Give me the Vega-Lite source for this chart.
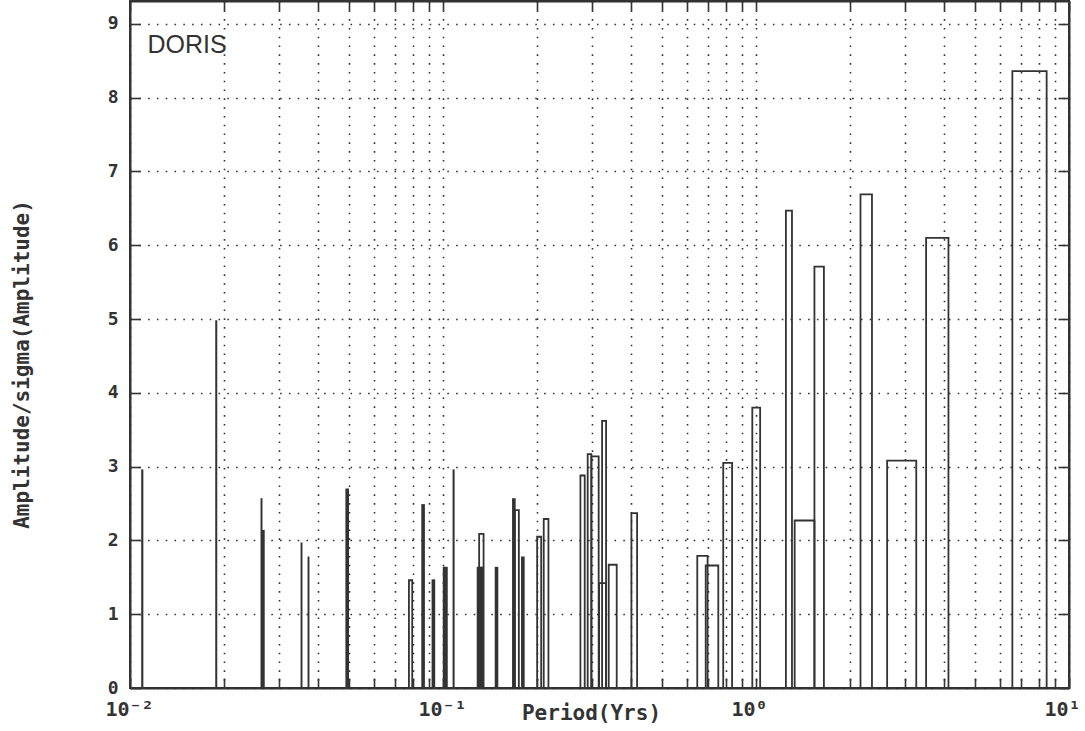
{
  "$schema": "https://vega.github.io/schema/vega-lite/v6.json",
  "width": 939,
  "height": 687,
  "autosize": "none",
  "padding": {"left": 130, "top": 1, "right": 16, "bottom": 43},
  "background": "white",
  "config": {
    "view": {"stroke": "#333", "strokeWidth": 2},
    "axis": {
      "domainColor": "#333",
      "domainWidth": 2,
      "tickColor": "#333",
      "tickWidth": 1.6,
      "tickSize": -10,
      "gridColor": "#333",
      "gridDash": [1.6, 7.2],
      "gridWidth": 1.6,
      "gridOpacity": 1,
      "labelFont": "DejaVu Sans Mono",
      "labelFontWeight": "bold",
      "labelFontSize": 20,
      "labelColor": "#333",
      "titleFont": "DejaVu Sans Mono",
      "titleFontWeight": "bold",
      "titleFontSize": 21,
      "titleColor": "#333",
      "labelFlush": false,
      "labelOverlap": false
    }
  },
  "layer": [
    {
      "data": {
        "values": [
          {"pmin": 0.010930, "pmax": 0.010960, "amp": 2.95},
          {"pmin": 0.018845, "pmax": 0.018875, "amp": 4.97},
          {"pmin": 0.026295, "pmax": 0.026325, "amp": 2.56},
          {"pmin": 0.026524, "pmax": 0.026760, "amp": 2.13},
          {"pmin": 0.035300, "pmax": 0.035330, "amp": 1.96},
          {"pmin": 0.037165, "pmax": 0.037195, "amp": 1.77},
          {"pmin": 0.049096, "pmax": 0.049754, "amp": 2.69},
          {"pmin": 0.07783, "pmax": 0.07974, "amp": 1.46},
          {"pmin": 0.08582, "pmax": 0.08696, "amp": 2.48},
          {"pmin": 0.09257, "pmax": 0.09380, "amp": 1.46},
          {"pmin": 0.10048, "pmax": 0.10167, "amp": 1.63},
          {"pmin": 0.10167, "pmax": 0.10287, "amp": 1.63},
          {"pmin": 0.10800, "pmax": 0.10820, "amp": 2.95},
          {"pmin": 0.12900, "pmax": 0.13032, "amp": 1.63},
          {"pmin": 0.13032, "pmax": 0.13165, "amp": 1.63},
          {"pmin": 0.13165, "pmax": 0.13298, "amp": 1.63},
          {"pmin": 0.13298, "pmax": 0.13433, "amp": 1.63},
          {"pmin": 0.13047, "pmax": 0.13478, "amp": 2.09},
          {"pmin": 0.14727, "pmax": 0.14923, "amp": 1.63},
          {"pmin": 0.16730, "pmax": 0.16953, "amp": 2.56},
          {"pmin": 0.16966, "pmax": 0.17472, "amp": 2.41},
          {"pmin": 0.17875, "pmax": 0.18112, "amp": 1.77},
          {"pmin": 0.1999, "pmax": 0.2059, "amp": 2.05},
          {"pmin": 0.2098, "pmax": 0.2172, "amp": 2.29},
          {"pmin": 0.2748, "pmax": 0.2836, "amp": 2.88},
          {"pmin": 0.2899, "pmax": 0.2979, "amp": 3.17},
          {"pmin": 0.2979, "pmax": 0.3143, "amp": 3.14},
          {"pmin": 0.3223, "pmax": 0.3319, "amp": 3.62},
          {"pmin": 0.3153, "pmax": 0.3319, "amp": 1.42},
          {"pmin": 0.3384, "pmax": 0.3589, "amp": 1.67},
          {"pmin": 0.3999, "pmax": 0.4170, "amp": 2.37},
          {"pmin": 0.6492, "pmax": 0.7005, "amp": 1.79},
          {"pmin": 0.6908, "pmax": 0.7578, "amp": 1.66},
          {"pmin": 0.7858, "pmax": 0.8387, "amp": 3.05},
          {"pmin": 0.9732, "pmax": 1.031, "amp": 3.80},
          {"pmin": 1.246, "pmax": 1.303, "amp": 6.47},
          {"pmin": 1.329, "pmax": 1.537, "amp": 2.27},
          {"pmin": 1.537, "pmax": 1.648, "amp": 5.71},
          {"pmin": 2.157, "pmax": 2.347, "amp": 6.69},
          {"pmin": 2.624, "pmax": 3.251, "amp": 3.08},
          {"pmin": 3.495, "pmax": 4.120, "amp": 6.10},
          {"pmin": 6.592, "pmax": 8.484, "amp": 8.36}
        ]
      },
      "mark": {"type": "rect", "filled": false, "stroke": "#333", "strokeWidth": 1.8},
      "encoding": {
        "x": {
          "field": "pmin",
          "type": "quantitative",
          "scale": {"type": "log", "domain": [0.01, 10], "nice": false},
          "axis": {
            "orient": "bottom",
            "values": [0.01, 0.02, 0.03, 0.04, 0.05, 0.06, 0.07, 0.08, 0.09, 0.1, 0.2, 0.3, 0.4, 0.5, 0.6, 0.7, 0.8, 0.9, 1, 2, 3, 4, 5, 6, 7, 8, 9, 10],
            "grid": true,
            "labelExpr": "datum.value == 0.01 ? '10⁻²' : datum.value == 0.1 ? '10⁻¹' : datum.value == 1 ? '10⁰' : datum.value == 10 ? '10¹' : ''",
            "labelAlign": "left",
            "labelOffset": -25,
            "labelPadding": 21,
            "labelBaseline": "top",
            "title": "Period(Yrs)",
            "titleX": 461,
            "titleY": 31,
            "titleAlign": "center",
            "titleBaseline": "alphabetic"
          }
        },
        "x2": {"field": "pmax"},
        "y": {
          "field": "amp",
          "type": "quantitative",
          "scale": {"domain": [0, 9.31], "nice": false},
          "axis": {
            "orient": "left",
            "values": [0, 1, 2, 3, 4, 5, 6, 7, 8, 9],
            "grid": true,
            "labelFontSize": 18,
            "labelPadding": 22,
            "labelBaseline": "middle",
            "title": "Amplitude/sigma(Amplitude)",
            "titleAngle": -90,
            "titleX": -102,
            "titleY": 363,
            "titleAlign": "center",
            "titleBaseline": "alphabetic"
          }
        },
        "y2": {"datum": 0}
      }
    },
    {
      "data": {"values": [{"label": "DORIS", "period": 0.011373, "amp": 8.6}]},
      "mark": {"type": "text", "align": "left", "baseline": "alphabetic", "font": "Liberation Sans", "fontSize": 25, "color": "#333"},
      "encoding": {
        "x": {
          "field": "period",
          "type": "quantitative",
          "axis": {
            "orient": "top",
            "values": [0.01, 0.02, 0.03, 0.04, 0.05, 0.06, 0.07, 0.08, 0.09, 0.1, 0.2, 0.3, 0.4, 0.5, 0.6, 0.7, 0.8, 0.9, 1, 2, 3, 4, 5, 6, 7, 8, 9, 10],
            "grid": false,
            "labels": false,
            "tickSize": -9,
            "title": null
          }
        },
        "y": {
          "field": "amp",
          "type": "quantitative",
          "axis": {
            "orient": "right",
            "values": [0, 1, 2, 3, 4, 5, 6, 7, 8, 9],
            "grid": false,
            "labels": false,
            "tickSize": -11,
            "title": null
          }
        },
        "text": {"field": "label"}
      }
    }
  ],
  "resolve": {"axis": {"x": "independent", "y": "independent"}}
}
